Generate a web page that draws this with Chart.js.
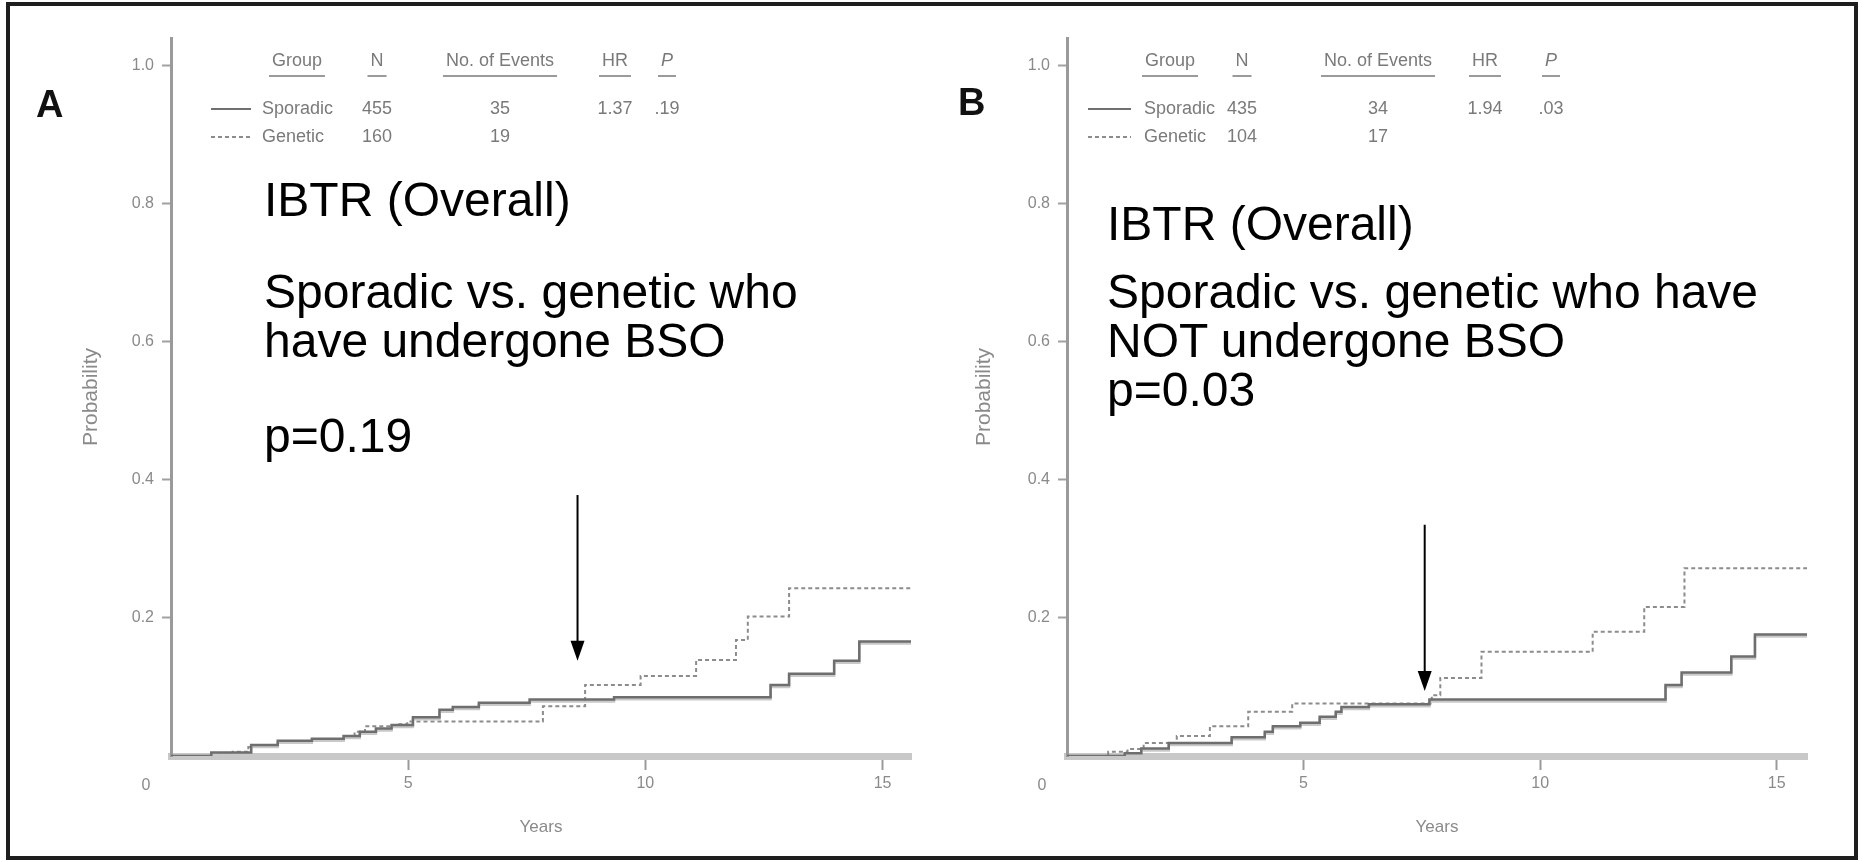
<!DOCTYPE html>
<html>
<head>
<meta charset="utf-8">
<script src="https://cdn.jsdelivr.net/npm/chart.js@4.4.1/dist/chart.umd.min.js"></script>
<style>
  body { margin: 0; background: #fff; }
  #page { position: relative; width: 1862px; height: 862px; overflow: hidden; background: #fff; }
  #frame { position: absolute; left: 6px; top: 2px; width: 1844px; height: 850px; border: 4px solid #1e1e1e; }
  canvas { position: absolute; top: 0; }
  #chartA { left: 0; }
  #chartB { left: 931px; }
  .note { position: absolute; font-family: "Liberation Sans", Arial, sans-serif; font-size: 48px; line-height: 48px; color: #000; white-space: nowrap; }
  .panel { position: absolute; font: bold 38px "Liberation Sans", Arial, sans-serif; line-height: 38px; color: #111; }
</style>
</head>
<body>
<div id="page">
  <canvas id="chartA" width="931" height="862"></canvas>
  <canvas id="chartB" width="931" height="862"></canvas>

  <div class="panel" style="left:36px; top:85px;">A</div>
  <div class="panel" style="left:958px; top:83px;">B</div>

  <div class="note" style="left:264px; top:176px;">IBTR (Overall)</div>
  <div class="note" style="left:264px; top:268px;">Sporadic vs. genetic who</div>
  <div class="note" style="left:264px; top:317px;">have undergone BSO</div>
  <div class="note" style="left:264px; top:412px;">p=0.19</div>

  <div class="note" style="left:1107px; top:200px;">IBTR (Overall)</div>
  <div class="note" style="left:1107px; top:268px;">Sporadic vs. genetic who have</div>
  <div class="note" style="left:1107px; top:317px;">NOT undergone BSO</div>
  <div class="note" style="left:1107px; top:366px;">p=0.03</div>

  <div id="frame"></div>
</div>

<script>
// axis ticks
const yTicks = [0.2, 0.4, 0.6, 0.8, 1.0];
const xTicks = [5, 10, 15];

// A: sporadic vs genetic, BSO done (time in years, cumulative probability)
const sporadicA_t = [0, 0.85, 1.69, 2.25, 2.97, 3.64, 3.98, 4.32, 4.65, 5.10, 5.66, 5.94, 6.49, 7.56, 9.34, 12.64, 13.03, 13.98, 14.51, 15.6];
const sporadicA_p = [0, 0.005, 0.016, 0.022, 0.025, 0.029, 0.035, 0.040, 0.045, 0.056, 0.067, 0.071, 0.077, 0.082, 0.085, 0.103, 0.119, 0.138, 0.166, 0.166];
const geneticA_t = [0, 0.85, 1.30, 1.63, 2.19, 2.97, 3.64, 3.87, 4.09, 4.76, 4.98, 7.84, 8.73, 9.90, 11.07, 11.91, 12.16, 13.03, 15.6];
const geneticA_p = [0, 0.004, 0.006, 0.013, 0.019, 0.024, 0.029, 0.035, 0.043, 0.046, 0.050, 0.072, 0.103, 0.116, 0.139, 0.168, 0.202, 0.243, 0.243];

// B: sporadic vs genetic, no BSO
const sporadicB_t = [0, 1.22, 1.57, 2.15, 3.48, 4.18, 4.35, 4.93, 5.34, 5.68, 5.80, 6.38, 7.66, 12.65, 12.99, 14.04, 14.54, 15.64];
const sporadicB_p = [0, 0.004, 0.011, 0.019, 0.027, 0.035, 0.043, 0.048, 0.057, 0.064, 0.071, 0.075, 0.082, 0.103, 0.121, 0.144, 0.176, 0.176];
const geneticB_t = [0, 0.87, 1.28, 1.62, 2.32, 3.02, 3.83, 4.76, 7.71, 7.89, 8.76, 11.11, 12.20, 13.05, 15.64];
const geneticB_p = [0, 0.006, 0.010, 0.019, 0.029, 0.043, 0.064, 0.076, 0.088, 0.113, 0.151, 0.180, 0.216, 0.272, 0.272];

// summary tables
const tableHeaders = ['Group', 'N', 'No. of Events', 'HR', 'P'];
const rowsA = [['Sporadic', '455', '35', '1.37', '.19'], ['Genetic', '160', '19', '', '']];
const rowsB = [['Sporadic', '435', '34', '1.94', '.03'], ['Genetic', '104', '17', '', '']];

// arrows: year, start and end probability
const arrowA = [8.57, 0.378, 0.138];
const arrowB = [7.56, 0.335, 0.094];

const smallFamily = '"Liberation Sans Narrow", "Liberation Sans", Arial, sans-serif';
const greyText = '#8a8a8a';

function steps(t, p) {
  return t.map((x, i) => ({ x: x, y: p[i] }));
}

// light band under the solid curve
const shadowPlugin = {
  id: 'lineShadow',
  beforeDatasetDraw(chart, args) {
    const ds = chart.data.datasets[args.index];
    if (!ds.shadow) return;
    chart.ctx.save();
    chart.ctx.shadowColor = ds.shadow;
    chart.ctx.shadowOffsetY = 2;
    chart.ctx.shadowBlur = 0;
  },
  afterDatasetDraw(chart, args) {
    if (chart.data.datasets[args.index].shadow) chart.ctx.restore();
  }
};

// "0" at the corner and the arrow
const extrasPlugin = {
  id: 'extras',
  afterDraw(chart, args, opts) {
    const ctx = chart.ctx;
    const xs = chart.scales.x, ys = chart.scales.y;
    ctx.save();
    ctx.font = '16px ' + smallFamily;
    ctx.fillStyle = greyText;
    ctx.textAlign = 'center';
    ctx.textBaseline = 'middle';
    ctx.fillText('0', xs.getPixelForValue(0) - 25, ys.getPixelForValue(0) + 30);

    const ax = xs.getPixelForValue(opts.arrow[0]);
    const y1 = ys.getPixelForValue(opts.arrow[1]);
    const y2 = ys.getPixelForValue(opts.arrow[2]);
    ctx.strokeStyle = '#000';
    ctx.fillStyle = '#000';
    ctx.lineWidth = 2;
    ctx.beginPath();
    ctx.moveTo(ax, y1);
    ctx.lineTo(ax, y2 - 18);
    ctx.stroke();
    ctx.beginPath();
    ctx.moveTo(ax - 7, y2 - 20);
    ctx.lineTo(ax + 7, y2 - 20);
    ctx.lineTo(ax, y2);
    ctx.closePath();
    ctx.fill();
    ctx.restore();
  }
};

// group / N / events / HR / P table
const tablePlugin = {
  id: 'kmTable',
  afterDraw(chart, args, opts) {
    const ctx = chart.ctx;
    ctx.save();
    ctx.fillStyle = '#7a7a7a';
    ctx.textBaseline = 'middle';
    ctx.textAlign = 'center';
    tableHeaders.forEach((h, i) => {
      ctx.font = (i === 4 ? 'italic ' : '') + '18px ' + smallFamily;
      ctx.fillText(h, opts.cols[i], opts.headY);
      const w = ctx.measureText(h).width;
      ctx.fillStyle = '#9a9a9a';
      ctx.fillRect(opts.cols[i] - w / 2 - 3, opts.headY + 14, w + 6, 2);
      ctx.fillStyle = '#7a7a7a';
    });
    ctx.font = '18px ' + smallFamily;
    opts.rows.forEach((row, r) => {
      const y = opts.rowY[r];
      ctx.textAlign = 'left';
      ctx.fillText(row[0], opts.nameX, y);
      ctx.textAlign = 'center';
      for (let i = 1; i < row.length; i++) ctx.fillText(row[i], opts.cols[i], y);
      ctx.beginPath();
      ctx.strokeStyle = r === 0 ? '#707070' : '#8c8c8c';
      ctx.lineWidth = 2;
      ctx.setLineDash(r === 0 ? [] : [4, 3]);
      ctx.moveTo(opts.lineX[0], y);
      ctx.lineTo(opts.lineX[1], y);
      ctx.stroke();
    });
    ctx.restore();
  }
};

function makeChart(id, sporT, sporP, genT, genP, xMax, layout, table, arrow) {
  new Chart(document.getElementById(id), {
    type: 'line',
    data: {
      datasets: [
        {
          label: 'Sporadic',
          data: steps(sporT, sporP),
          stepped: true,
          borderColor: '#6e6e6e',
          borderWidth: 2.5,
          pointRadius: 0,
          shadow: '#c9c9c9'
        },
        {
          label: 'Genetic',
          data: steps(genT, genP),
          stepped: true,
          borderColor: '#8c8c8c',
          borderWidth: 2,
          borderDash: [4, 3],
          pointRadius: 0
        }
      ]
    },
    options: {
      responsive: false,
      animation: false,
      layout: { padding: { left: 0, top: 38, right: layout.right, bottom: 0 } },
      plugins: {
        legend: { display: false },
        tooltip: { enabled: false },
        kmTable: table,
        extras: { arrow: arrow }
      },
      scales: {
        x: {
          type: 'linear',
          min: 0,
          max: xMax,
          afterBuildTicks: (scale) => { scale.ticks = xTicks.map(v => ({ value: v })); },
          afterFit: (scale) => { scale.height = 106; },
          grid: { drawOnChartArea: false, drawTicks: true, tickLength: 14, tickColor: '#9a9a9a', tickWidth: 2 },
          border: { display: true, color: '#c8c8c8', width: 7 },
          ticks: { color: greyText, font: { family: smallFamily, size: 16 }, padding: 4, maxRotation: 0 },
          title: { display: true, text: 'Years', color: greyText, font: { family: smallFamily, size: 17 }, padding: { top: 0, bottom: 24 } }
        },
        y: {
          type: 'linear',
          min: 0,
          max: 1.04,
          afterBuildTicks: (scale) => { scale.ticks = yTicks.map(v => ({ value: v })); },
          afterFit: (scale) => { scale.width = layout.yWidth; },
          grid: { drawOnChartArea: false, drawTicks: true, tickLength: 9, tickColor: '#a0a0a0', tickWidth: 2 },
          border: { display: true, color: '#9a9a9a', width: 3 },
          ticks: { color: greyText, font: { family: smallFamily, size: 16 }, padding: 8, callback: (v) => v.toFixed(1) },
          title: { display: true, text: 'Probability', color: greyText, font: { family: smallFamily, size: 21 }, padding: { top: layout.titlePad, bottom: 0 } }
        }
      }
    },
    plugins: [shadowPlugin, extrasPlugin, tablePlugin]
  });
}

makeChart('chartA', sporadicA_t, sporadicA_p, geneticA_t, geneticA_p, 15.6,
  { right: 20, yWidth: 171, titlePad: 79 },
  { cols: [297, 377, 500, 615, 667], nameX: 262, lineX: [211, 251], headY: 61, rowY: [109, 137], rows: rowsA },
  arrowA);

makeChart('chartB', sporadicB_t, sporadicB_p, geneticB_t, geneticB_p, 15.64,
  { right: 55, yWidth: 136, titlePad: 41 },
  { cols: [239, 311, 447, 554, 620], nameX: 213, lineX: [157, 200], headY: 61, rowY: [109, 137], rows: rowsB },
  arrowB);
</script>
</body>
</html>
